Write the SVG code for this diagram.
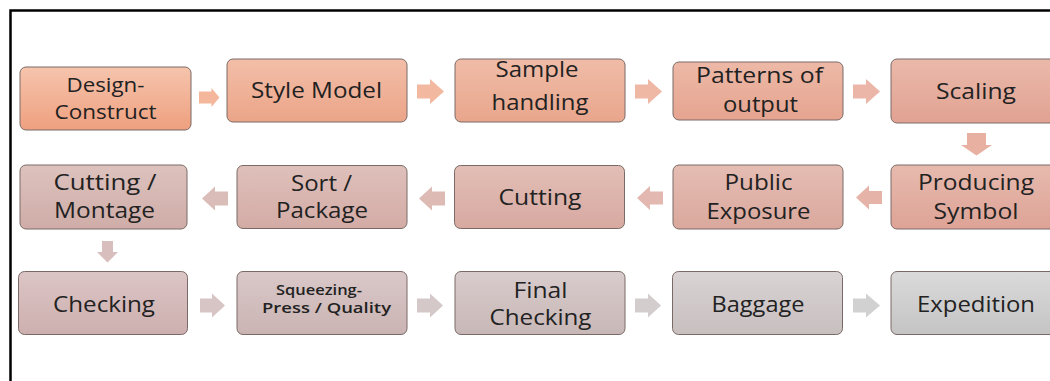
<svg xmlns="http://www.w3.org/2000/svg" width="1050" height="381" viewBox="0 0 1050 381">
<style>
.box{stroke:#7a6a66;stroke-width:1}
.t{font-family:"Open Sans","Liberation Sans",sans-serif;font-size:21px;fill:#222;text-anchor:middle}
.tl{font-size:22px}
.ts{font-size:20px}
.tb{font-size:15px;font-weight:600}
.frame{fill:none;stroke:#000;stroke-width:2.5}
</style>
<defs>
<linearGradient id="g1" x1="0" y1="0" x2="0" y2="1"><stop offset="0" stop-color="#f6c4ad"/><stop offset="1" stop-color="#eea07f"/></linearGradient>
<linearGradient id="g2" x1="0" y1="0" x2="0" y2="1"><stop offset="0" stop-color="#f3bea8"/><stop offset="1" stop-color="#eba589"/></linearGradient>
<linearGradient id="g3" x1="0" y1="0" x2="0" y2="1"><stop offset="0" stop-color="#f0bca7"/><stop offset="1" stop-color="#e8a68c"/></linearGradient>
<linearGradient id="g4" x1="0" y1="0" x2="0" y2="1"><stop offset="0" stop-color="#edb9a7"/><stop offset="1" stop-color="#e5a48f"/></linearGradient>
<linearGradient id="g5" x1="0" y1="0" x2="0" y2="1"><stop offset="0" stop-color="#eab9aa"/><stop offset="1" stop-color="#e1a292"/></linearGradient>
<linearGradient id="g6" x1="0" y1="0" x2="0" y2="1"><stop offset="0" stop-color="#e7baae"/><stop offset="1" stop-color="#dda396"/></linearGradient>
<linearGradient id="g7" x1="0" y1="0" x2="0" y2="1"><stop offset="0" stop-color="#e5bdb3"/><stop offset="1" stop-color="#daa89d"/></linearGradient>
<linearGradient id="g8" x1="0" y1="0" x2="0" y2="1"><stop offset="0" stop-color="#e2beb6"/><stop offset="1" stop-color="#d7a9a1"/></linearGradient>
<linearGradient id="g9" x1="0" y1="0" x2="0" y2="1"><stop offset="0" stop-color="#dfc0bb"/><stop offset="1" stop-color="#d3aba5"/></linearGradient>
<linearGradient id="g10" x1="0" y1="0" x2="0" y2="1"><stop offset="0" stop-color="#ddc2be"/><stop offset="1" stop-color="#cfaca7"/></linearGradient>
<linearGradient id="g11" x1="0" y1="0" x2="0" y2="1"><stop offset="0" stop-color="#dcc5c5"/><stop offset="1" stop-color="#cdafaf"/></linearGradient>
<linearGradient id="g12" x1="0" y1="0" x2="0" y2="1"><stop offset="0" stop-color="#dac8c8"/><stop offset="1" stop-color="#cab3b3"/></linearGradient>
<linearGradient id="g13" x1="0" y1="0" x2="0" y2="1"><stop offset="0" stop-color="#d9cccc"/><stop offset="1" stop-color="#c8b7b7"/></linearGradient>
<linearGradient id="g14" x1="0" y1="0" x2="0" y2="1"><stop offset="0" stop-color="#d9d3d3"/><stop offset="1" stop-color="#c8bfbf"/></linearGradient>
<linearGradient id="g15" x1="0" y1="0" x2="0" y2="1"><stop offset="0" stop-color="#dadada"/><stop offset="1" stop-color="#c4c4c4"/></linearGradient>
</defs>

<rect width="1050" height="381" fill="#fff"/>
<path class="frame" d="M10.5,381 V10.5 H1050"/>

<g id="n1"><rect class="box" x="20" y="67" width="171" height="63" rx="6" fill="url(#g1)"/>
<text class="t ts" x="105.5" y="92" textLength="78" lengthAdjust="spacingAndGlyphs">Design-</text>
<text class="t ts" x="105.5" y="119.3" textLength="102" lengthAdjust="spacingAndGlyphs">Construct</text></g>
<g id="n2"><rect class="box" x="227" y="59" width="180" height="63" rx="6" fill="url(#g2)"/>
<text class="t" x="316.5" y="98.3" textLength="131" lengthAdjust="spacingAndGlyphs">Style Model</text></g>
<g id="n3"><rect class="box" x="455" y="59" width="170" height="63" rx="6" fill="url(#g3)"/>
<text class="t" x="537" y="77.3" textLength="83" lengthAdjust="spacingAndGlyphs">Sample</text>
<text class="t" x="540" y="110" textLength="97" lengthAdjust="spacingAndGlyphs">handling</text></g>
<g id="n4"><rect class="box" x="673" y="62" width="170" height="58" rx="6" fill="url(#g4)"/>
<text class="t" x="759.5" y="83.3" textLength="127" lengthAdjust="spacingAndGlyphs">Patterns of</text>
<text class="t" x="760.5" y="111.7" textLength="75" lengthAdjust="spacingAndGlyphs">output</text></g>
<g id="n5"><rect class="box" x="891" y="59" width="170" height="64" rx="6" fill="url(#g5)"/>
<text class="t" x="976" y="99" textLength="80" lengthAdjust="spacingAndGlyphs">Scaling</text></g>

<g id="n6"><rect class="box" x="891" y="165" width="170" height="64" rx="6" fill="url(#g6)"/>
<text class="t" x="976" y="190" textLength="116" lengthAdjust="spacingAndGlyphs">Producing</text>
<text class="t" x="976" y="219" textLength="85" lengthAdjust="spacingAndGlyphs">Symbol</text></g>
<g id="n7"><rect class="box" x="673" y="165" width="170" height="64" rx="6" fill="url(#g7)"/>
<text class="t" x="758.5" y="190" textLength="68" lengthAdjust="spacingAndGlyphs">Public</text>
<text class="t" x="758.5" y="219" textLength="104" lengthAdjust="spacingAndGlyphs">Exposure</text></g>
<g id="n8"><rect class="box" x="454.5" y="165.5" width="170" height="63" rx="6" fill="url(#g8)"/>
<text class="t" x="540" y="205" textLength="83" lengthAdjust="spacingAndGlyphs">Cutting</text></g>
<g id="n9"><rect class="box" x="237" y="165.5" width="170" height="63" rx="6" fill="url(#g9)"/>
<text class="t" x="321.5" y="191" textLength="61" lengthAdjust="spacingAndGlyphs">Sort /</text>
<text class="t" x="322" y="218.3" textLength="92" lengthAdjust="spacingAndGlyphs">Package</text></g>
<g id="n10"><rect class="box" x="20" y="165" width="167" height="64" rx="6" fill="url(#g10)"/>
<text class="t" x="105" y="189.5" textLength="103" lengthAdjust="spacingAndGlyphs">Cutting /</text>
<text class="t" x="104.5" y="218.3" textLength="101" lengthAdjust="spacingAndGlyphs">Montage</text></g>

<g id="n11"><rect class="box" x="18.5" y="271.5" width="169" height="63" rx="6" fill="url(#g11)"/>
<text class="t tl" x="104" y="312" textLength="102" lengthAdjust="spacingAndGlyphs">Checking</text></g>
<g id="n12"><rect class="box" x="237" y="271.5" width="170" height="63" rx="6" fill="url(#g12)"/>
<text class="t tb" x="319" y="295" textLength="86" lengthAdjust="spacingAndGlyphs">Squeezing-</text>
<text class="t tb" x="326.5" y="313.3" textLength="129" lengthAdjust="spacingAndGlyphs">Press / Quality</text></g>
<g id="n13"><rect class="box" x="455" y="271.5" width="170" height="63" rx="6" fill="url(#g13)"/>
<text class="t tl" x="540.5" y="298" textLength="54" lengthAdjust="spacingAndGlyphs">Final</text>
<text class="t tl" x="540.5" y="325.3" textLength="102" lengthAdjust="spacingAndGlyphs">Checking</text></g>
<g id="n14"><rect class="box" x="672.5" y="271.5" width="170" height="63" rx="6" fill="url(#g14)"/>
<text class="t tl" x="758" y="312" textLength="93" lengthAdjust="spacingAndGlyphs">Baggage</text></g>
<g id="n15"><rect class="box" x="891" y="271.5" width="170" height="63" rx="6" fill="url(#g15)"/>
<text class="t tl" x="976" y="312" textLength="118" lengthAdjust="spacingAndGlyphs">Expedition</text></g>

<g id="connectors">
<path d="M199,91.5 H211.5 V88 L219.5,97.5 L211.5,107 V103.5 H199 Z" fill="#f4b79b"/>
<path d="M417,84.5 H430 V79 L444,91.5 L430,104 V98.5 H417 Z" fill="#f2b8a0"/>
<path d="M635,84.5 H648 V79 L662,91.5 L648,104 V98.5 H635 Z" fill="#efb8a5"/>
<path d="M853,84.5 H866 V79 L880,91.5 L866,104 V98.5 H853 Z" fill="#ebb6a7"/>
<path d="M967,133 H986 V145 H992 L976.5,155.5 L961,145 H967 Z" fill="#e8b0a0"/>
<path d="M882,191 H869 V185.5 L856,197.5 L869,209.5 V204 H882 Z" fill="#e6b3a8"/>
<path d="M663,191.5 H650 V186 L637,198 L650,210 V204.5 H663 Z" fill="#e2b8b0"/>
<path d="M445,191.5 H432 V186.5 L419,198.5 L432,210.5 V205.5 H445 Z" fill="#ddbab4"/>
<path d="M228,191.5 H215 V186.5 L202,198.5 L215,210.5 V205.5 H228 Z" fill="#dabdb8"/>
<path d="M102,241 H113 V252 H118 L107.5,262.5 L97,252 H102 Z" fill="#d8bebd"/>
<path d="M200,298.5 H212 V293.5 L225,305.5 L212,317.5 V312.5 H200 Z" fill="#d7c4c4"/>
<path d="M417,298.5 H430 V293.5 L443,305.5 L430,317.5 V312.5 H417 Z" fill="#d5c8c8"/>
<path d="M635,298.5 H648 V293.5 L661,305.5 L648,317.5 V312.5 H635 Z" fill="#d4cdcd"/>
<path d="M853,298.5 H866 V293.5 L880,305.5 L866,317.5 V312.5 H853 Z" fill="#d1d1d1"/>
</g>
</svg>
